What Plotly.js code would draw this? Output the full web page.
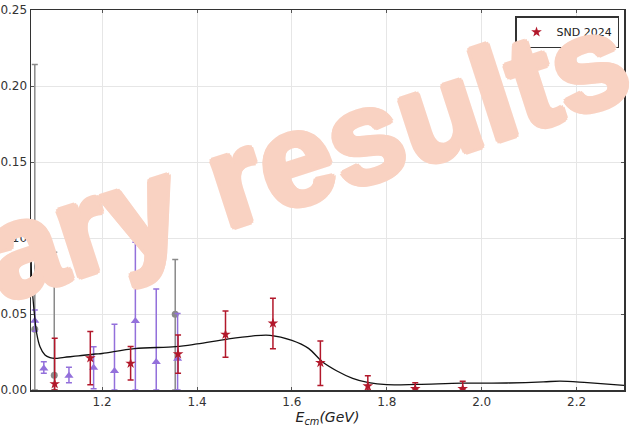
<!DOCTYPE html>
<html>
<head>
<meta charset="utf-8">
<script src="https://cdn.plot.ly/plotly-3.0.1.min.js"></script>
<style>html,body{margin:0;padding:0;background:#fff;}#plot{width:635px;height:427px;}</style>
</head>
<body>
<div id="plot"></div>
<script>
// SND points (red stars)
const sndX = [1.10, 1.175, 1.26, 1.36, 1.46, 1.56, 1.66, 1.76, 1.86, 1.96];
const sndY = [0.004, 0.021, 0.0175, 0.0237, 0.0366, 0.0439, 0.018, 0.0026, 0.0008, 0.0008];
const sndErrUp = [0.030, 0.0175, 0.0112, 0.0125, 0.0154, 0.0164, 0.0142, 0.0068, 0.004, 0.0049];
const sndErrDn = [0.004, 0.0175, 0.0109, 0.0127, 0.015, 0.0167, 0.015, 0.0026, 0.0008, 0.0008];

// purple triangles
const triX = [1.058, 1.077, 1.13, 1.182, 1.226, 1.27, 1.314, 1.359];
const triY = [0.0456, 0.0142, 0.0094, 0.0147, 0.0125, 0.0454, 0.0184, 0.0206];
const triErrUp = [0.007, 0.0044, 0.0055, 0.0138, 0.0307, 0.0518, 0.048, 0.0298];
const triErrDn = [0.007, 0.0032, 0.0046, 0.0138, 0.0125, 0.0454, 0.0184, 0.0206];

// gray circles
const grayX = [1.058, 1.099, 1.354];
const grayY = [0.040, 0.0097, 0.0498];
const grayErrUp = [0.1742, 0.0809, 0.036];
const grayErrDn = [0.040, 0.0097, 0.0498];

// fit curve
const curveX = [1.05, 1.0515, 1.057, 1.062, 1.069, 1.0795, 1.09, 1.1, 1.12, 1.15, 1.185, 1.2, 1.268, 1.355, 1.40, 1.464, 1.515, 1.554, 1.60, 1.635, 1.664, 1.694, 1.728, 1.762, 1.80, 1.865, 1.959, 2.053, 2.13, 2.165, 2.223, 2.3];
const curveY = [0.099, 0.072, 0.0506, 0.0373, 0.0285, 0.023, 0.0213, 0.0208, 0.0215, 0.0224, 0.0237, 0.024, 0.0272, 0.0285, 0.0303, 0.0335, 0.0355, 0.036, 0.0327, 0.0274, 0.0186, 0.0127, 0.0077, 0.0048, 0.0035, 0.0037, 0.0045, 0.0046, 0.0053, 0.0059, 0.0048, 0.003];

const xTicks = [1.2, 1.4, 1.6, 1.8, 2.0, 2.2];
const yTicks = [0.00, 0.05, 0.10, 0.15, 0.20, 0.25];

const red = '#b2182b', purple = '#9370db', gray = '#8a8a8a';
const wm = '#f9d2c2';

const traces = [
  {x: grayX, y: grayY, type: 'scatter', mode: 'markers', showlegend: false,
   marker: {symbol: 'circle', size: 7, color: gray},
   error_y: {type: 'data', symmetric: false, array: grayErrUp, arrayminus: grayErrDn, color: gray, thickness: 1.5, width: 3}},
  {x: triX, y: triY, type: 'scatter', mode: 'markers', showlegend: false,
   marker: {symbol: 'triangle-up', size: 8, color: purple},
   error_y: {type: 'data', symmetric: false, array: triErrUp, arrayminus: triErrDn, color: purple, thickness: 1.5, width: 3}},
  {x: curveX, y: curveY, type: 'scatter', mode: 'lines', showlegend: false,
   line: {color: '#111', width: 1.3, shape: 'spline', smoothing: 1}},
  {x: sndX, y: sndY, type: 'scatter', mode: 'markers', name: 'SND 2024',
   marker: {symbol: 'star', size: 8, color: red},
   error_y: {type: 'data', symmetric: false, array: sndErrUp, arrayminus: sndErrDn, color: red, thickness: 1.5, width: 3}}
];

const sh = [[3,0],[-3,0],[0,3],[0,-3],[2,2],[-2,-2],[2,-2],[-2,2]].map(p => p[0] + 'px ' + p[1] + 'px 0 ' + wm).join(', ');

const layout = {
  width: 635, height: 427,
  margin: {l: 31, r: 11, t: 10, b: 37},
  paper_bgcolor: '#fff', plot_bgcolor: '#fff',
  font: {family: 'DejaVu Sans', size: 12, color: '#222'},
  xaxis: {range: [1.05, 2.3], tickvals: xTicks, ticktext: xTicks.map(v => v.toFixed(1)),
    showgrid: true, gridcolor: '#e6e6e6', gridwidth: 1, zeroline: false,
    showline: true, linecolor: '#333', linewidth: 1.5, mirror: 'ticks',
    ticks: 'inside', ticklen: 3, tickcolor: '#555',
    tickfont: {size: 12, color: '#333'},
    title: {text: '<i>E<sub>cm</sub>(GeV)</i>', font: {size: 14, color: '#222'}, standoff: 4}},
  yaxis: {range: [0, 0.25], tickvals: yTicks, ticktext: yTicks.map(v => v.toFixed(2)),
    showgrid: true, gridcolor: '#e6e6e6', gridwidth: 1, zeroline: false,
    showline: true, linecolor: '#333', linewidth: 1.5, mirror: 'ticks',
    ticks: 'inside', ticklen: 3, tickcolor: '#555',
    tickfont: {size: 12, color: '#333'}},
  legend: {x: 0.9916, xanchor: 'right', y: 0.984, yanchor: 'top',
    bgcolor: '#fff', bordercolor: '#333', borderwidth: 1.5,
    font: {size: 11, color: '#222'}},
  annotations: [{
    xref: 'paper', yref: 'paper', x: 0.044, y: 0.405,
    xanchor: 'center', yanchor: 'middle', showarrow: false,
    text: '<b>Preliminary results</b>', textangle: -18,
    font: {family: 'Liberation Sans', size: 132, color: wm, shadow: sh}
  }]
};

Plotly.newPlot('plot', traces, layout, {displayModeBar: false, staticPlot: true});
</script>
</body>
</html>
